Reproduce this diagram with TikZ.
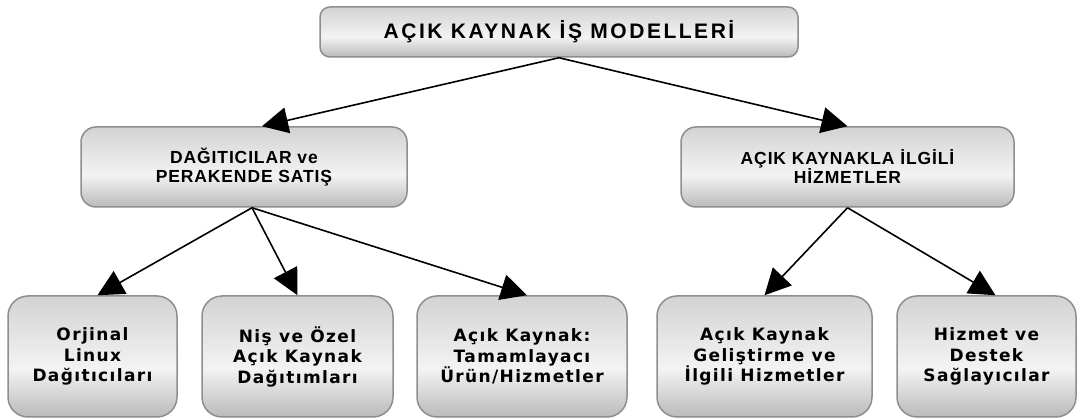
\documentclass[tikz,border=0pt]{standalone}
\usepackage{fontspec}
\setmainfont{DejaVu Sans}
\newfontfamily\hdA[LetterSpace=12]{Liberation Sans}
\newfontfamily\hdB[LetterSpace=5]{Liberation Sans}
\newfontfamily\btf[LetterSpace=8]{DejaVu Sans}
\usetikzlibrary{arrows.meta}
\definecolor{shb}{HTML}{BABABA}
\definecolor{shm}{HTML}{F3F3F3}
\definecolor{sht}{HTML}{D3D3D3}
\definecolor{bord}{HTML}{8E8E8E}
\pgfdeclareverticalshading{glass}{100bp}{color(0bp)=(shb); color(25bp)=(shb); color(45bp)=(shm); color(75bp)=(sht); color(100bp)=(sht)}
\tikzset{
  box/.style={draw=bord, line width=1.5pt, shading=glass, align=center, inner sep=0pt},
  topbox/.style={box, rounded corners=10pt, font=\hdA\bfseries\fontsize{21}{24}\selectfont},
  midbox/.style={box, rounded corners=15pt, font=\hdB\bfseries\fontsize{17.5}{19}\selectfont},
  leafbox/.style={box, rounded corners=20pt, font=\btf\bfseries\fontsize{17}{20.5}\selectfont},
  conn/.style={line width=1.6pt, -{Triangle[length=26pt,width=26pt]}}
}
\begin{document}
\begin{tikzpicture}[x=1pt,y=-1pt]
\useasboundingbox (0,0) rectangle (1080,419);
\node[topbox, minimum width=478pt, minimum height=50pt] (top) at (559,32) {AÇIK KAYNAK İŞ MODELLERİ};
\node[midbox, minimum width=326pt, minimum height=80pt] (ml) at (244,167) {DAĞITICILAR ve\\PERAKENDE SATIŞ};
\node[midbox, minimum width=333pt, minimum height=80pt] (mr) at (847.5,167) {AÇIK KAYNAKLA İLGİLİ\\HİZMETLER};
\node[leafbox, minimum width=169pt, minimum height=121pt] (b1) at (92.5,356.5) {Orjinal\\Linux\\Dağıtıcıları};
\node[leafbox, minimum width=191pt, minimum height=121pt] (b2) at (297.5,356.5) {Niş ve Özel\\Açık Kaynak\\Dağıtımları};
\node[leafbox, minimum width=210pt, minimum height=121pt] (b3) at (522,356.5) {Açık Kaynak:\\Tamamlayacı\\Ürün/Hizmetler};
\node[leafbox, minimum width=215pt, minimum height=121pt] (b4) at (764.5,356.5) {Açık Kaynak\\Geliştirme ve\\İlgili Hizmetler};
\node[leafbox, minimum width=179pt, minimum height=121pt] (b5) at (986.5,356.5) {Hizmet ve\\Destek\\Sağlayıcılar};
\draw[conn] (top.south) -- ([xshift=18pt]ml.north);
\draw[conn] (top.south) -- (mr.north);
\draw[conn] ([xshift=8pt]ml.south) -- ([xshift=5pt]b1.north);
\draw[conn] ([xshift=8pt]ml.south) -- (b2.north);
\draw[conn] ([xshift=8pt]ml.south) -- ([xshift=5pt]b3.north);
\draw[conn] (mr.south) -- (b4.north);
\draw[conn] (mr.south) -- ([xshift=9pt]b5.north);
\end{tikzpicture}
\end{document}
